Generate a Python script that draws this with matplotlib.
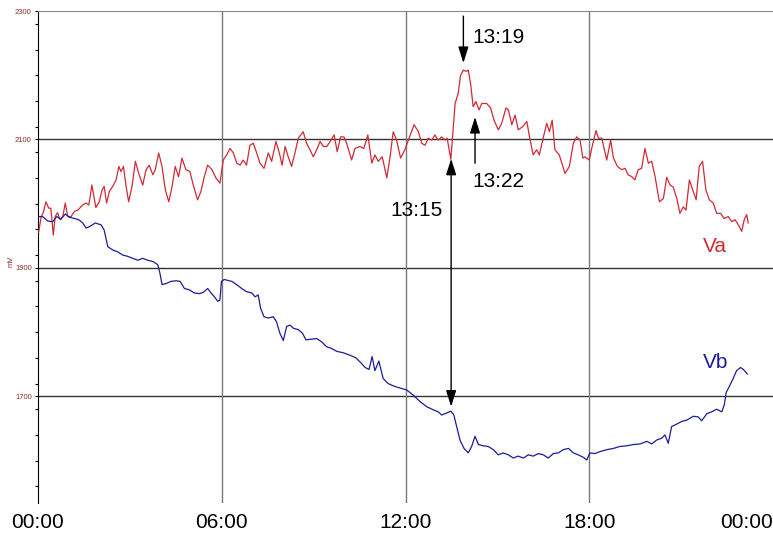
import matplotlib
matplotlib.use('Agg')
import matplotlib.pyplot as plt
from matplotlib.ticker import MultipleLocator

plt.rcParams['font.family'] = ['Liberation Sans', 'DejaVu Sans']

# ---------------------------------------------------------------------------
# data (time in hours, voltage in mV)
# ---------------------------------------------------------------------------
va_hours = [0.02, 0.10, 0.17, 0.26, 0.35, 0.42, 0.50, 0.56, 0.64, 0.72, 0.81, 0.89,
            0.97, 1.08, 1.19, 1.30, 1.46, 1.57, 1.66, 1.76, 1.89, 2.00, 2.09, 2.16,
            2.24, 2.33, 2.44, 2.55, 2.64, 2.71, 2.79, 2.87, 2.96, 3.07, 3.18, 3.29,
            3.42, 3.53, 3.63, 3.75, 3.83, 3.94, 4.05, 4.16, 4.27, 4.38, 4.48, 4.59,
            4.70, 4.83, 4.96, 5.07, 5.21, 5.32, 5.43, 5.54, 5.68, 5.81, 5.94,
            6.05, 6.16, 6.27, 6.38, 6.49, 6.60, 6.70, 6.81, 6.92, 7.03, 7.14, 7.25,
            7.38, 7.52, 7.63, 7.77, 7.88, 7.97, 8.07, 8.17, 8.28, 8.39, 8.50, 8.66,
            8.77, 8.88, 8.99, 9.10, 9.21, 9.32, 9.43, 9.54, 9.67, 9.77, 9.88, 9.99,
            10.08, 10.24, 10.35, 10.51, 10.64, 10.77, 10.90, 11.00, 11.11, 11.24,
            11.39, 11.49, 11.60, 11.71, 11.84, 11.98,
            12.12, 12.28, 12.42, 12.53, 12.64, 12.74, 12.86, 12.96, 13.07, 13.18,
            13.29, 13.36, 13.48, 13.62, 13.72, 13.80, 13.89, 13.98, 14.05, 14.13,
            14.21, 14.30, 14.40, 14.49, 14.65, 14.78, 14.89, 15.03, 15.14, 15.28,
            15.36, 15.47, 15.58, 15.68, 15.83, 15.96, 16.07, 16.17, 16.28, 16.37,
            16.48, 16.61, 16.70, 16.79, 16.88, 17.02, 17.21, 17.35, 17.48, 17.59,
            17.70, 17.79, 17.86, 18.00,
            18.08, 18.22, 18.30, 18.41, 18.57, 18.70, 18.79, 18.92, 19.06, 19.17,
            19.27, 19.39, 19.49, 19.60, 19.71, 19.82, 19.93, 20.04, 20.15, 20.29,
            20.42, 20.53, 20.64, 20.74, 20.86, 20.96, 21.07, 21.16, 21.27, 21.38,
            21.49, 21.59, 21.70, 21.81, 21.92, 22.05, 22.16, 22.29, 22.40, 22.54,
            22.65, 22.76, 22.87, 22.98, 23.06, 23.14, 23.19]
va_mv = [1955, 1979, 1986, 2003, 1993, 1993, 1951, 1980, 1986, 1975, 1980, 2001,
         1980, 1980, 1988, 1990, 1998, 2001, 1998, 2029, 1994, 2003, 2021, 2027,
         2001, 2019, 2027, 2037, 2058, 2050, 2058, 2029, 2003, 2027, 2066, 2047,
         2029, 2053, 2060, 2045, 2053, 2079, 2058, 2021, 2003, 2027, 2058, 2042,
         2071, 2053, 2050, 2029, 2006, 2019, 2042, 2060, 2053, 2040, 2032,
         2068, 2076, 2086, 2079, 2063, 2060, 2068, 2060, 2091, 2094, 2079, 2063,
         2055, 2079, 2066, 2097, 2079, 2060, 2089, 2073, 2058, 2079, 2102, 2112,
         2094, 2084, 2073, 2084, 2097, 2089, 2089, 2097, 2107, 2081, 2104, 2104,
         2094, 2068, 2086, 2089, 2086, 2107, 2063, 2076, 2066, 2073,
         2040, 2071, 2112, 2099, 2071, 2084,
         2102, 2123, 2112, 2094, 2091, 2102, 2099, 2107, 2099, 2104,
         2099, 2102, 2069, 2156, 2172, 2200, 2208, 2206, 2208, 2185,
         2151, 2159, 2146, 2156, 2156, 2149, 2130, 2115, 2125, 2149,
         2146, 2123, 2138, 2115, 2120, 2128, 2099, 2076, 2084, 2076,
         2099, 2125, 2112, 2130, 2084, 2076, 2047, 2058, 2094, 2104,
         2099, 2071, 2073, 2068,
         2086, 2114, 2102, 2102, 2068, 2099, 2071, 2058, 2053, 2055,
         2045, 2042, 2037, 2053, 2055, 2086, 2063, 2066, 2042, 2003,
         2008, 2041, 2029, 2026, 2008, 1985, 1995, 1990, 2037, 2021,
         2006, 2058, 2066, 2021, 2006, 2001, 1985, 1985, 1977, 1980,
         1972, 1975, 1967, 1957, 1975, 1983, 1970]

vb_hours = [0.02, 0.15, 0.32, 0.48, 0.61, 0.75, 0.89, 1.02, 1.19, 1.33, 1.46, 1.57,
            1.71, 1.87, 2.06, 2.16, 2.28, 2.44, 2.60, 2.77, 2.93, 3.09, 3.26, 3.42,
            3.58, 3.75, 3.91, 3.98, 4.05, 4.20, 4.34, 4.51, 4.64, 4.78, 4.94, 5.10,
            5.27, 5.40, 5.54, 5.65, 5.76, 5.87, 5.94, 5.99, 6.08, 6.33, 6.49, 6.65,
            6.81, 6.98, 7.09, 7.19, 7.27, 7.38, 7.52, 7.68, 7.79, 7.90, 8.01, 8.12,
            8.23, 8.34, 8.50, 8.64, 8.75, 8.94, 9.10, 9.26, 9.43, 9.57, 9.76, 9.96,
            10.19, 10.38, 10.55, 10.68, 10.81, 10.91, 11.00, 11.13, 11.27, 11.43,
            11.62, 11.82, 12.04, 12.25, 12.47, 12.69, 12.91, 13.07, 13.18, 13.34,
            13.48, 13.58, 13.67, 13.78, 13.91, 14.05, 14.16, 14.27, 14.38, 14.54,
            14.70, 14.87, 15.03, 15.19, 15.36, 15.52, 15.68, 15.85, 16.01, 16.17,
            16.34, 16.50, 16.66, 16.83, 16.99, 17.15, 17.32, 17.48, 17.64, 17.81,
            17.92, 18.02, 18.19, 18.35, 18.57, 18.79, 19.00, 19.22, 19.44, 19.66,
            19.88, 20.04, 20.20, 20.37, 20.47, 20.58, 20.69, 20.86, 21.02, 21.18,
            21.40, 21.56, 21.67, 21.84, 22.00, 22.16, 22.33, 22.41, 22.47, 22.60,
            22.70, 22.81, 22.94, 23.03, 23.16]
vb_mv = [1980, 1980, 1973, 1972, 1980, 1976, 1984, 1979, 1977, 1975, 1970, 1962,
         1965, 1970, 1967, 1959, 1933, 1928, 1925, 1920, 1918, 1915, 1912, 1915,
         1912, 1910, 1905, 1892, 1874, 1876, 1879, 1880, 1879, 1868, 1866, 1861,
         1860, 1862, 1868, 1861, 1855, 1848, 1850, 1879, 1882, 1879, 1874, 1868,
         1863, 1861, 1855, 1858, 1837, 1824, 1822, 1824, 1816, 1798, 1787, 1809,
         1811, 1806, 1804, 1798, 1788, 1789, 1790, 1785, 1777, 1775, 1770, 1768,
         1764, 1760, 1752, 1745, 1742, 1762, 1740, 1755, 1728, 1720,
         1716, 1713, 1710, 1702, 1692, 1684, 1679, 1676, 1671, 1674,
         1677, 1671, 1653, 1632, 1619, 1612, 1622, 1638, 1625, 1623,
         1622, 1617, 1609, 1612, 1609, 1604, 1607, 1604, 1609, 1607,
         1611, 1609, 1604, 1611, 1612, 1617, 1619, 1612, 1609, 1605,
         1601, 1612, 1611, 1614, 1617, 1619, 1622, 1623, 1625, 1626,
         1630, 1626, 1632, 1635, 1640, 1627, 1653, 1657, 1661, 1663,
         1669, 1668, 1662, 1673, 1676, 1680, 1676, 1687, 1706, 1718,
         1728, 1740, 1745, 1742, 1735]

x_ticks = [0, 6, 12, 18, 24]
x_labels = ['00:00', '06:00', '12:00', '18:00', '00:00']
y_ticks = [1700, 1900, 2100, 2300]
h_grid = [1700, 1900, 2100]
v_grid = [6, 12, 18]

# annotations: (label, x in hours, arrow tail mV, arrow tip mV)
ann_1319 = ('13:19', 13.89, 2292, 2219)
ann_1322 = ('13:22', 14.27, 2063, 2135)
ann_1315 = ('13:15', 13.49, 1684, 2070)

RED = '#d02a35'
BLUE = '#1c1c9a'

fig = plt.figure(figsize=(7.73, 5.35), dpi=100)
ax = fig.add_axes([38 / 773, 1 - 503 / 535, 735 / 773, 492 / 535])
ax.set_xlim(0, 24)
ax.set_ylim(1534, 2300)

for v in h_grid:
    ax.axhline(v, color='#333333', lw=1.0, zorder=1)
for v in v_grid:
    ax.axvline(v, color='#7a7a7a', lw=1.0, zorder=1)

ax.plot(va_hours, va_mv, color=RED, lw=0.9, zorder=3)
ax.plot(vb_hours, vb_mv, color=BLUE, lw=0.9, zorder=3)

ax.text(22.09, 1933, 'Va', color=RED, fontsize=15, ha='center', va='center')
ax.text(22.14, 1753, 'Vb', color=BLUE, fontsize=15, ha='center', va='center')

head = '-|>,head_length=0.7,head_width=0.22'
ap = dict(arrowstyle=head, mutation_scale=14, color='black', lw=1.0,
          shrinkA=0, shrinkB=0)

# 13:19 - arrow pointing down at the peak
ax.annotate('', xy=(ann_1319[1], ann_1319[3]), xytext=(ann_1319[1], ann_1319[2]),
            arrowprops=ap, annotation_clip=False)
ax.text(14.17, 2259, ann_1319[0], fontsize=15, ha='left', va='center')

# 13:22 - arrow pointing up
ax.annotate('', xy=(ann_1322[1], ann_1322[3]), xytext=(ann_1322[1], ann_1322[2]),
            arrowprops=ap)
ax.text(14.20, 2035, ann_1322[0], fontsize=15, ha='left', va='center')

# 13:15 - double arrow between the two traces
ap2 = dict(ap, arrowstyle='<|-|>,head_length=0.7,head_width=0.22')
ax.annotate('', xy=(ann_1315[1], ann_1315[3]), xytext=(ann_1315[1], ann_1315[2]),
            arrowprops=ap2)
ax.text(13.22, 1989, ann_1315[0], fontsize=15, ha='right', va='center')

# axes styling
ax.set_xticks(x_ticks)
ax.set_xticklabels(x_labels)
ax.tick_params(axis='x', length=0, pad=7, labelsize=15)
ax.get_xticklabels()[-1].set_ha('right')

ax.set_yticks(y_ticks)
ax.yaxis.set_minor_locator(MultipleLocator(40))
ax.tick_params(axis='y', which='both', direction='out', length=2.5, width=0.8,
               labelsize=5.5, labelcolor='#8b3030', pad=2)

for s in ['right', 'bottom']:
    ax.spines[s].set_visible(False)
ax.spines['top'].set_color('#888888')
ax.spines['left'].set_color('black')

fig.text(11 / 773, 1 - 261 / 535, 'mV', rotation=90, fontsize=5.5,
         color='#8b3030', ha='center', va='center')

fig.savefig('out.png', dpi=100)
